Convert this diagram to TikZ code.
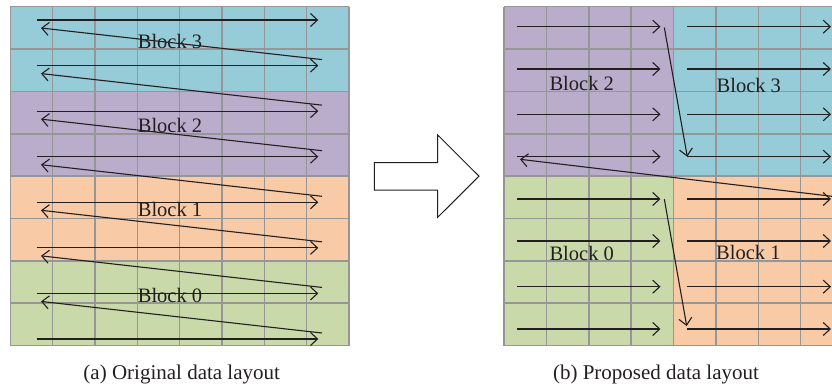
\documentclass[tikz,border=0pt]{standalone}
\usepackage{fontspec}
\setmainfont{Liberation Serif}
\usetikzlibrary{arrows.meta}
\definecolor{cteal}{HTML}{96CBD8}
\definecolor{cpurple}{HTML}{BAADCC}
\definecolor{corange}{HTML}{F8CAA5}
\definecolor{cgreen}{HTML}{C9D9A9}
\definecolor{cgrid}{HTML}{969696}
\definecolor{cink}{HTML}{231F20}
\begin{document}
\begin{tikzpicture}[x=1pt,y=-1pt,
  gridline/.style={draw=cgrid,line width=1.5pt},
  flow/.style={draw=cink,line width=1.1pt,-{Straight Barb[length=7pt,width=13pt,line width=1.1pt]}},
  lbl/.style={font=\fontsize{20.5}{24}\selectfont,text=cink,anchor=base,inner sep=0pt},
  captext/.style={font=\fontsize{21}{25}\selectfont,text=cink,anchor=base,inner sep=0pt},
  bigarrow/.style={draw=cink,line width=1pt,fill=white,line join=miter}]
\useasboundingbox (0,0) rectangle (832,391);
% ---------- left grid ----------
\fill[cteal]   (10.3,6.7)   rectangle (349,91.4);
\fill[cpurple] (10.3,91.4)  rectangle (349,176.1);
\fill[corange] (10.3,176.1) rectangle (349,260.8);
\fill[cgreen]  (10.3,260.8) rectangle (349,345.5);
\foreach \i in {0,...,8} {
  \draw[gridline] ({10.3+42.34*\i},6.7) -- ({10.3+42.34*\i},345.5);
  \draw[gridline] (10.3,{6.7+42.35*\i}) -- (349,{6.7+42.35*\i});
}
% ---------- right grid ----------
\fill[cpurple] (504,6.7)     rectangle (673.5,176.1);
\fill[cteal]   (673.5,6.7)   rectangle (832,176.1);
\fill[cgreen]  (504,176.1)   rectangle (673.5,345.5);
\fill[corange] (673.5,176.1) rectangle (832,345.5);
\foreach \i in {0,...,7} {
  \draw[gridline] ({504+42.38*\i},6.7) -- ({504+42.38*\i},345.5);
}
\foreach \i in {0,...,8} {
  \draw[gridline] (504,{6.7+42.35*\i}) -- (832,{6.7+42.35*\i});
}
% ---------- left arrows ----------
\foreach \i in {0,...,7} {
  \draw[flow] (36.7,{20+45.57*\i}) -- (318.3,{20+45.57*\i});
}
\foreach \i in {0,...,6} {
  \draw[flow] (322,{20+45.57*(\i+1)-6}) -- (41,{20+45.57*\i+8});
}
% ---------- right arrows ----------
\foreach \y in {26.7,69,114.3,156.7,199,241,286.7,329} {
  \draw[flow] (517,\y) -- (660.5,\y);
  \draw[flow] (687.3,\y) -- (831,\y);
}
\draw[flow] (664.3,27.5) -- (687.3,156.7);
\draw[flow] (664.3,199) -- (686.7,326);
\draw[flow] (832,196.3) -- (520,159.3);
% ---------- labels ----------
\node[lbl] (l3) at (170,48.3)  {Block 3};
\node[lbl] (l2) at (170,132.3) {Block 2};
\node[lbl] (l1) at (170,216.7) {Block 1};
\node[lbl] (l0) at (170,302.3) {Block 0};
\node[lbl] (r2) at (581.7,90)   {Block 2};
\node[lbl] (r3) at (748.8,92.3) {Block 3};
\node[lbl] (r0) at (581.7,260.7) {Block 0};
\node[lbl] (r1) at (748.4,259.3) {Block 1};
% ---------- big arrow ----------
\draw[bigarrow] (374.3,162.7) -- (437.7,162.7) -- (437.7,135) -- (479,176.2)
  -- (437.7,217.3) -- (437.7,190) -- (374.3,190) -- cycle;
% ---------- captions ----------
\node[captext] (capa) at (181.7,379.3) {(a) Original data layout};
\node[captext] (capb) at (656,379.3) {(b) Proposed data layout};
\end{tikzpicture}
\end{document}
